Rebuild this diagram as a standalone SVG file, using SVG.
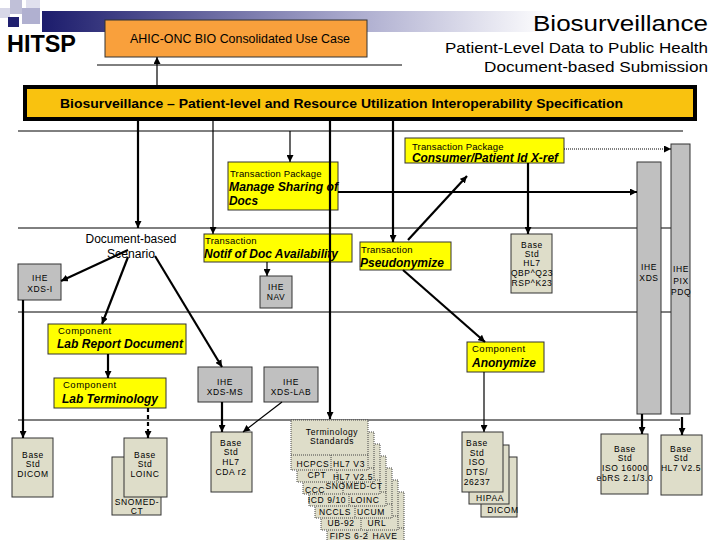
<svg xmlns="http://www.w3.org/2000/svg" width="720" height="540" viewBox="0 0 720 540">
<defs>
<linearGradient id="hg" x1="0" y1="0" x2="1" y2="0">
<stop offset="0" stop-color="#1c1c6c"/>
<stop offset="0.45" stop-color="#a8a8cc"/>
<stop offset="0.75" stop-color="#ffffff"/>
</linearGradient>
<marker id="ah" viewBox="0 0 10 10" refX="10" refY="5" markerWidth="7" markerHeight="7" markerUnits="userSpaceOnUse" orient="auto">
<path d="M0,0 L10,5 L0,10 z" fill="#000"/>
</marker>
</defs>
<style>
text{font-family:"Liberation Sans",Arial,sans-serif;fill:#000}
.sm{font-size:9.5px;letter-spacing:0.5px}
.tt{font-size:12.5px;font-weight:bold;font-style:italic}
.bs{font-size:8.5px;letter-spacing:0.6px;text-anchor:middle}
.yel{fill:#ffff00;stroke:#333;stroke-width:1}
.ihe{fill:#c0c0c0;stroke:#333;stroke-width:1}
.base{fill:#deddc9;stroke:#333;stroke-width:1}
.card{fill:#deddc9;stroke:#444;stroke-width:1;stroke-dasharray:1 1}
.dv{stroke:#444;stroke-width:1;stroke-dasharray:1 1;fill:none}
.lane{stroke:#000;stroke-width:1;fill:none}
.c1{stroke:#000;stroke-width:1.2;fill:none;marker-end:url(#ah)}
.c2{stroke:#000;stroke-width:2.2;fill:none;marker-end:url(#ah)}
</style>
<g id="header">
<rect x="42" y="11" width="678" height="21" fill="url(#hg)"/>
<rect x="0" y="8" width="10" height="10" fill="#d8d8e8"/>
<rect x="10" y="0" width="12" height="14" fill="#c0c0d8"/>
<rect x="26" y="0" width="14" height="8" fill="#e0e0ee"/>
<rect x="22" y="8" width="18" height="16" fill="#b0b0d0"/>
<rect x="8" y="17" width="11" height="10" fill="#202070"/>
<text x="7" y="52" font-size="23" font-weight="bold" textLength="69" lengthAdjust="spacingAndGlyphs">HITSP</text>
<text x="708" y="31" font-size="22" text-anchor="end" textLength="175" lengthAdjust="spacingAndGlyphs">Biosurveillance</text>
<text x="708" y="53" font-size="15" text-anchor="end" textLength="263" lengthAdjust="spacingAndGlyphs">Patient-Level Data to Public Health</text>
<text x="708" y="72" font-size="15" text-anchor="end" textLength="224" lengthAdjust="spacingAndGlyphs">Document-based Submission</text>
<line x1="97" y1="65" x2="402" y2="65" stroke="#000" stroke-width="1"/>
</g>
<g id="usecase">
<rect x="105" y="20" width="262" height="37" fill="#f9a03c" stroke="#333" stroke-width="1"/>
<text x="130" y="43" font-size="12.5" textLength="220" lengthAdjust="spacingAndGlyphs">AHIC-ONC BIO Consolidated Use Case</text>
</g>
<g id="spec">
<rect x="25" y="87" width="670" height="32" fill="#f9c20f" stroke="#000" stroke-width="4"/>
<text x="60" y="108" font-size="13" font-weight="bold" textLength="563" lengthAdjust="spacingAndGlyphs">Biosurveillance – Patient-level and Resource Utilization Interoperability Specification</text>
</g>
<g id="lanes">
<line class="lane" x1="18" y1="131" x2="683" y2="131"/>
<line class="lane" x1="18" y1="228" x2="637" y2="228"/>
<line class="lane" x1="661" y1="228" x2="671" y2="228"/>
<line class="lane" x1="18" y1="312" x2="637" y2="312"/>
<line class="lane" x1="661" y1="312" x2="671" y2="312"/>
<line class="lane" x1="18" y1="420" x2="680" y2="420"/>
</g>
<g id="consumer">
<rect class="yel" x="405" y="138" width="159" height="25"/>
<text class="sm" x="412" y="150" textLength="92">Transaction Package</text>
<text class="tt" x="412" y="162" textLength="146" lengthAdjust="spacingAndGlyphs">Consumer/Patient Id X-ref</text>
</g>
<g id="manage">
<rect class="yel" x="228" y="162" width="110" height="48"/>
<text class="sm" x="230" y="177" textLength="92">Transaction Package</text>
<text class="tt" x="229" y="191" textLength="109" lengthAdjust="spacingAndGlyphs">Manage Sharing of</text>
<text class="tt" x="229" y="205" textLength="29" lengthAdjust="spacingAndGlyphs">Docs</text>
</g>
<g id="docscenario">
<text x="131" y="243" font-size="12" text-anchor="middle" textLength="91" lengthAdjust="spacingAndGlyphs">Document-based</text>
<text x="131" y="258" font-size="12" text-anchor="middle" textLength="48" lengthAdjust="spacingAndGlyphs">Scenario</text>
</g>
<g id="notif">
<rect class="yel" x="204" y="234" width="148" height="28"/>
<text class="sm" x="205" y="244" textLength="52">Transaction</text>
<text class="tt" x="204" y="258" textLength="134" lengthAdjust="spacingAndGlyphs">Notif of Doc Availability</text>
</g>
<g id="pseudo">
<rect class="yel" x="360" y="242" width="91" height="28"/>
<text class="sm" x="361" y="253" textLength="52">Transaction</text>
<text class="tt" x="360" y="267" textLength="84" lengthAdjust="spacingAndGlyphs">Pseudonymize</text>
</g>
<g id="qbp">
<rect class="base" x="511" y="234" width="41" height="59"/>
<text class="bs" x="532" y="248">Base</text>
<text class="bs" x="532" y="257">Std</text>
<text class="bs" x="532" y="266">HL7</text>
<text class="bs" x="532" y="276">QBP^Q23</text>
<text class="bs" x="532" y="286">RSP^K23</text>
</g>
<g id="xds">
<rect class="ihe" x="637" y="162" width="24" height="252"/>
<text class="bs" x="649" y="270">IHE</text>
<text class="bs" x="649" y="281">XDS</text>
</g>
<g id="pix">
<rect class="ihe" x="671" y="144" width="19" height="270"/>
<text class="bs" x="681" y="272">IHE</text>
<text class="bs" x="681" y="284">PIX</text>
<text class="bs" x="681" y="295">PDQ</text>
</g>
<g id="xdsi">
<rect class="ihe" x="18" y="264" width="43" height="36"/>
<text class="bs" x="40" y="281">IHE</text>
<text class="bs" x="40" y="292">XDS-I</text>
</g>
<g id="nav">
<rect class="ihe" x="260" y="276" width="32" height="32"/>
<text class="bs" x="276" y="290">IHE</text>
<text class="bs" x="276" y="300">NAV</text>
</g>
<g id="labreport">
<rect class="yel" x="48" y="324" width="138" height="30"/>
<text class="sm" x="58" y="334">Component</text>
<text class="tt" x="57" y="348" textLength="126" lengthAdjust="spacingAndGlyphs">Lab Report Document</text>
</g>
<g id="anonymize">
<rect class="yel" x="467" y="342" width="77" height="30"/>
<text class="sm" x="472" y="352">Component</text>
<text class="tt" x="472" y="367" textLength="64" lengthAdjust="spacingAndGlyphs">Anonymize</text>
</g>
<g id="labterm">
<rect class="yel" x="54" y="378" width="112" height="30"/>
<text class="sm" x="63" y="388">Component</text>
<text class="tt" x="62" y="403" textLength="96" lengthAdjust="spacingAndGlyphs">Lab Terminology</text>
</g>
<g id="xdsms">
<rect class="ihe" x="198" y="367" width="54" height="35"/>
<text class="bs" x="225" y="385">IHE</text>
<text class="bs" x="225" y="395">XDS-MS</text>
</g>
<g id="xdslab">
<rect class="ihe" x="264" y="367" width="54" height="35"/>
<text class="bs" x="291" y="385">IHE</text>
<text class="bs" x="291" y="395">XDS-LAB</text>
</g>
<g id="dicom">
<rect class="base" x="12" y="438" width="41" height="59"/>
<text class="bs" x="33" y="458">Base</text>
<text class="bs" x="33" y="467">Std</text>
<text class="bs" x="33" y="477">DICOM</text>
</g>
<g id="loinc">
<rect class="base" x="112" y="457" width="49" height="58"/>
<text class="bs" x="137" y="505" font-size="8">SNOMED-</text>
<text class="bs" x="137" y="514" font-size="8">CT</text>
<rect class="base" x="124" y="438" width="43" height="59"/>
<text class="bs" x="145" y="458">Base</text>
<text class="bs" x="145" y="467">Std</text>
<text class="bs" x="145" y="477">LOINC</text>
</g>
<g id="cda">
<rect class="base" x="211" y="432" width="41" height="60"/>
<text class="bs" x="231" y="446">Base</text>
<text class="bs" x="231" y="455">Std</text>
<text class="bs" x="231" y="465">HL7</text>
<text class="bs" x="231" y="475">CDA r2</text>
</g>
<g id="terminology">
<g transform="translate(327,492)">
<rect class="card" x="0" y="0" width="77" height="50"/><line class="dv" x1="0" y1="36" x2="77" y2="36"/><line class="dv" x1="40" y1="36" x2="40" y2="50"/>
<text class="bs" x="22" y="47">FIPS 6-2</text><text class="bs" x="58" y="47">HAVE</text>
</g>
<g transform="translate(321,480)">
<rect class="card" x="0" y="0" width="77" height="50"/><line class="dv" x1="0" y1="36" x2="77" y2="36"/><line class="dv" x1="40" y1="36" x2="40" y2="50"/>
<text class="bs" x="20" y="46">UB-92</text><text class="bs" x="56" y="46">URL</text>
</g>
<g transform="translate(315,468)">
<rect class="card" x="0" y="0" width="77" height="50"/><line class="dv" x1="0" y1="36" x2="77" y2="36"/><line class="dv" x1="40" y1="36" x2="40" y2="50"/>
<text class="bs" x="20" y="47">NCCLS</text><text class="bs" x="56" y="47">UCUM</text>
</g>
<g transform="translate(309,456)">
<rect class="card" x="0" y="0" width="77" height="50"/><line class="dv" x1="0" y1="36" x2="77" y2="36"/><line class="dv" x1="40" y1="36" x2="40" y2="50"/>
<text class="bs" x="18" y="47">ICD 9/10</text><text class="bs" x="56" y="47">LOINC</text>
</g>
<g transform="translate(303,444)">
<rect class="card" x="0" y="0" width="77" height="50"/><line class="dv" x1="0" y1="36" x2="77" y2="36"/><line class="dv" x1="40" y1="36" x2="40" y2="50"/>
<text class="bs" x="12" y="49">CCC</text><text class="bs" x="51" y="45" letter-spacing="0.2">SNOMED-CT</text>
</g>
<g transform="translate(297,432)">
<rect class="card" x="0" y="0" width="77" height="50"/><line class="dv" x1="0" y1="36" x2="77" y2="36"/><line class="dv" x1="40" y1="36" x2="40" y2="50"/>
<text class="bs" x="20" y="46">CPT</text><text class="bs" x="56" y="48" letter-spacing="0.2">HL7 V2.5</text>
</g>
<g transform="translate(291,420)">
<rect class="card" x="0" y="0" width="77" height="50"/><line class="dv" x1="0" y1="35" x2="77" y2="35"/><line class="dv" x1="40" y1="35" x2="40" y2="50"/>
<text class="bs" x="41" y="15">Terminology</text><text class="bs" x="41" y="24">Standards</text>
<text class="bs" x="22" y="47">HCPCS</text><text class="bs" x="58" y="47">HL7 V3</text>
</g>
</g>
<g id="isodts">
<rect class="base" x="481" y="457" width="36" height="60"/>
<text class="bs" x="503" y="513">DICOM</text>
<rect class="base" x="469" y="445" width="40" height="59"/>
<text class="bs" x="490" y="501">HIPAA</text>
<rect class="base" x="462" y="432" width="41" height="60"/>
<text class="bs" x="477" y="446">Base</text>
<text class="bs" x="477" y="456">Std</text>
<text class="bs" x="477" y="465">ISO</text>
<text class="bs" x="477" y="475">DTS/</text>
<text class="bs" x="477" y="485">26237</text>
</g>
<g id="iso16000">
<rect class="base" x="601" y="434" width="47" height="60"/>
<text class="bs" x="625" y="452">Base</text>
<text class="bs" x="625" y="461">Std</text>
<text class="bs" x="625" y="471" letter-spacing="0">ISO 16000</text>
<text class="bs" x="625" y="481" letter-spacing="0">ebRS 2.1/3.0</text>
</g>
<g id="hl7v25">
<rect class="base" x="661" y="435" width="41" height="60"/>
<text class="bs" x="681" y="452">Base</text>
<text class="bs" x="681" y="461">Std</text>
<text class="bs" x="681" y="471" letter-spacing="0">HL7 V2.5</text>
</g>
<g id="connectors">
<line class="c1" x1="157" y1="85" x2="157" y2="57"/>
<line class="c2" x1="138" y1="121" x2="138" y2="228"/>
<line class="c1" x1="213" y1="121" x2="213" y2="234"/>
<line class="c1" x1="290" y1="131" x2="290" y2="162"/>
<line class="c2" x1="330" y1="121" x2="330" y2="419"/>
<line class="c2" x1="393" y1="121" x2="393" y2="242"/>
<line class="c2" x1="338" y1="192" x2="637" y2="192"/>
<line x1="564" y1="149" x2="671" y2="149" stroke="#000" stroke-width="1.2" stroke-dasharray="1 1" marker-end="url(#ah)"/>
<line class="c2" x1="528" y1="163" x2="528" y2="234"/>
<line class="c2" x1="408" y1="240" x2="467" y2="176"/>
<line class="c2" x1="403" y1="270" x2="485" y2="342"/>
<line class="c1" x1="267" y1="262" x2="267" y2="276"/>
<line class="c2" x1="128" y1="250" x2="61" y2="281"/>
<line class="c2" x1="128" y1="257" x2="102" y2="324"/>
<line class="c2" x1="155" y1="256" x2="222" y2="367"/>
<line class="c2" x1="108" y1="354" x2="108" y2="378"/>
<line x1="148" y1="408" x2="148" y2="438" stroke="#000" stroke-width="2.2" stroke-dasharray="4 3" marker-end="url(#ah)"/>
<line class="c2" x1="23" y1="300" x2="23" y2="438"/>
<line class="c2" x1="222" y1="402" x2="222" y2="432"/>
<line class="c1" x1="282" y1="402" x2="243" y2="432"/>
<line class="c1" x1="484" y1="372" x2="484" y2="432"/>
<line class="c2" x1="642" y1="414" x2="642" y2="434"/>
<line class="c2" x1="682" y1="417" x2="682" y2="435"/>
</g>
</svg>
